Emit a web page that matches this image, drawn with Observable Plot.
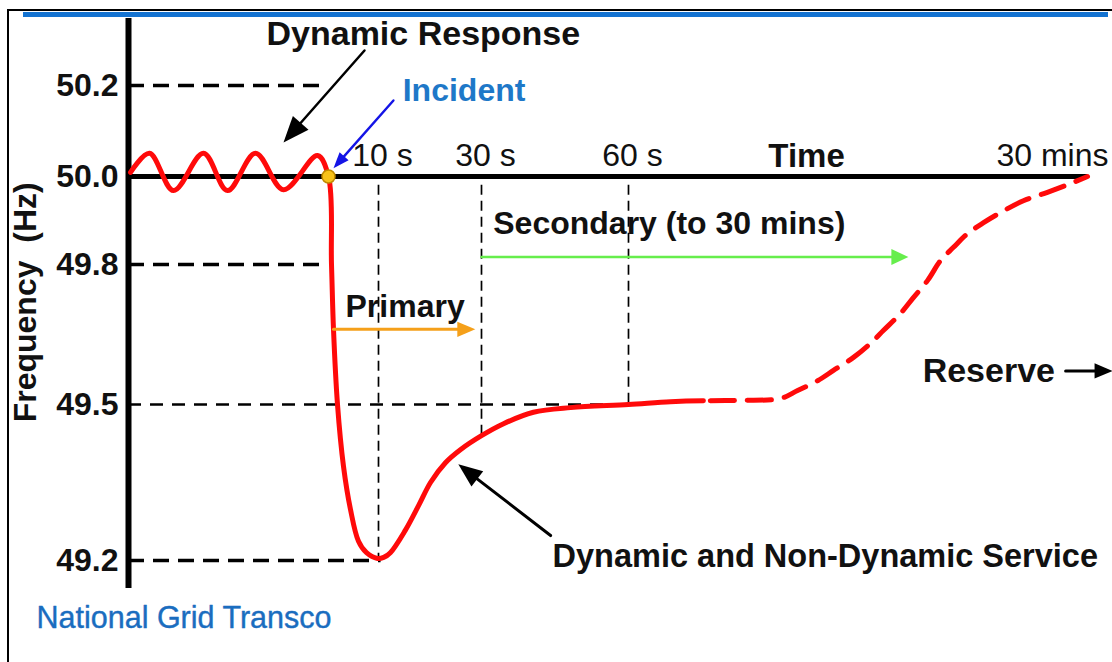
<!DOCTYPE html>
<html>
<head>
<meta charset="utf-8">
<script src="https://cdn.jsdelivr.net/npm/d3@7"></script>
<script src="https://cdn.jsdelivr.net/npm/@observablehq/plot@0.6"></script>
<style>
  html, body { margin: 0; padding: 0; background: #fff; }
  #wrap { position: relative; width: 1112px; height: 662px; overflow: hidden; background: #fff; }
  .frame-top { position: absolute; left: 7px; top: 9px; width: 1105px; height: 2px; background: #000; }
  .frame-left { position: absolute; left: 7px; top: 9px; width: 2px; height: 653px; background: #000; }
  .band { position: absolute; left: 23px; top: 12px; width: 1085px; height: 5px; background: #1473d1; }
  #chart { position: absolute; left: 0; top: 0; }
  #err { position: absolute; left: 40px; top: 40px; font: 14px monospace; color: #c00; white-space: pre-wrap; }
</style>
</head>
<body>
<div id="wrap">
  <div class="frame-top"></div>
  <div class="frame-left"></div>
  <div class="band"></div>
  <div id="chart"></div>
  <div id="err"></div>
</div>
<script>
// ---------- data (schematic frequency response, time in seconds) ----------
const yTicks = [49.2, 49.5, 49.8, 50.0, 50.2];
const xTickTimes = [10, 30, 60];
const xTickLabels = ["10 s", "30 s", "60 s"];
const endTime = 1800;
const endLabel = "30 mins";
const axisLabelTime = 735;
const axisLabel = "Time";
const yTitle = "Frequency  (Hz)";

// solid part: pre-incident oscillation, drop, recovery
const solidTime = [-39.6, -35.8, -31, -25, -20.2, -14.6, -9, -2.2, 0, 0.6, 1.0, 1.8, 3.0, 4.4, 6.0, 7.6, 9.8, 11.0, 12.3, 15.2, 17.8, 20.1, 23.0, 25.9, 30, 34.5, 40.6, 48.2, 60, 219, 344];
const solidFreq = [50.009, 50.051, 49.968, 50.051, 49.968, 50.051, 49.970, 50.046, 50.0, 49.8, 49.661, 49.5, 49.381, 49.298, 49.237, 49.215, 49.204, 49.206, 49.215, 49.258, 49.306, 49.350, 49.388, 49.413, 49.44, 49.463, 49.485, 49.494, 49.5, 49.506, 49.508];

// dashed part: reserve restoring to 50 Hz by 30 mins
const reserveTime = [344, 485, 636, 701, 777, 837, 913, 977, 1027, 1091, 1140, 1194, 1243, 1292, 1345, 1406, 1470, 1557, 1648, 1736, 1800];
const reserveFreq = [49.508, 49.509, 49.513, 49.530, 49.551, 49.573, 49.601, 49.631, 49.659, 49.695, 49.729, 49.766, 49.809, 49.839, 49.870, 49.895, 49.918, 49.945, 49.964, 49.984, 50.0];

// incident
const incidentTime = [0];
const incidentFreq = [50.0];

// reference guides
const guideThickFreq = [50.2, 49.8, 49.2];
const guideThickEnd = [-1.2, -0.6, 10.5];
const guideThinFreq = [49.5];
const guideThinEnd = [60];
const guideVTime = [10, 30, 60];
const guideVFreq = [49.2, 49.44, 49.5];

// annotations
const noteText = ["Dynamic Response", "Incident", "Primary", "Secondary (to 30 mins)", "Reserve", "Dynamic and Non-Dynamic Service"];
const noteTime = [-12.4, 14.7, 3.4, 32.4, 1175, 44.5];
const noteFreq = [50.314, 50.189, 49.71, 49.892, 49.571, 49.208];
const brandText = "National Grid Transco";
const brandTime = -58.4;
const brandFreq = 49.089;

const arrowFromTime = [7.2, 12.9, 1.0, 30, 1717, 44.1];
const arrowFromFreq = [50.277, 50.167, 49.661, 49.817, 49.572, 49.248];
const arrowToTime = [-9, 1.0, 28.8, 1121, 1895, 25.5];
const arrowToFreq = [50.075, 50.018, 49.661, 49.817, 49.572, 49.385];

// ---------- styles ----------
const arrowStyle = [
  {color: "#000000", width: 2.5, head: 26, ratio: 0.8},
  {color: "#1414e6", width: 2.4, head: 16, ratio: 0.75},
  {color: "#f5a01a", width: 3, head: 18, ratio: 0.85},
  {color: "#66ee4c", width: 2.5, head: 17, ratio: 0.95},
  {color: "#000000", width: 3, head: 18, ratio: 0.85},
  {color: "#000000", width: 3, head: 24, ratio: 0.8}
];
const noteColor = ["#111", "#1e78c8", "#111", "#111", "#111", "#111"];
const noteSize = [34, 32, 32, 32, 34, 32.5];

// arrowhead symbol with its tip at the origin, pointing up
const headSymbol = (ratio) => ({
  draw(context, size) {
    const L = Math.sqrt(size / Math.PI);
    const w = L * ratio / 2;
    context.moveTo(0, 0);
    context.lineTo(-w, L);
    context.lineTo(w, L);
    context.closePath();
  }
});

try {
  const solid = solidTime.map((t, i) => ({t, f: solidFreq[i]}));
  const reserve = reserveTime.map((t, i) => ({t, f: reserveFreq[i]}));
  const notes = noteText.map((text, i) => ({text, t: noteTime[i], f: noteFreq[i], color: noteColor[i], size: noteSize[i]}));
  const arrows = arrowFromTime.map((t, i) => ({x1: t, y1: arrowFromFreq[i], x2: arrowToTime[i], y2: arrowToFreq[i]}));

  const font = "'Liberation Sans', Arial, Helvetica, sans-serif";
  const red = "#ff0a0a";

  const xOpt = {type: "linear", domain: [-40, 0, 10, 30, 60, 1800], range: [128, 328, 378, 481, 628, 1087], axis: null};
  const yOpt = {type: "linear", domain: [49.2, 49.5, 49.8, 50.0, 50.2], range: [560, 404, 264, 176, 85], axis: null};
  const sx = Plot.scale({x: xOpt});
  const sy = Plot.scale({y: yOpt});

  const arrowShafts = arrowStyle.map((s, i) =>
    Plot.arrow([arrows[i]], {x1: "x1", y1: "y1", x2: "x2", y2: "y2", stroke: s.color, strokeWidth: s.width, headLength: 0, insetEnd: s.head * 0.7})
  );
  const arrowHeads = arrowStyle.map((s, i) => {
    const a = arrows[i];
    const ang = Math.atan2(sy.apply(a.y2) - sy.apply(a.y1), sx.apply(a.x2) - sx.apply(a.x1));
    return Plot.dot([a], {x: "x2", y: "y2", symbol: headSymbol(s.ratio), fill: s.color, stroke: "none",
      r: s.head, rotate: ang * 180 / Math.PI + 90});
  });

  const noteMarks = notes.map(n =>
    Plot.text([n], {x: "t", y: "f", text: "text", fill: n.color, fontSize: n.size, textAnchor: "start", lineAnchor: "middle", fontWeight: "bold"})
  );

  const chart = Plot.plot({
    width: 1112,
    height: 662,
    margin: 0,
    style: {fontFamily: font, background: "transparent", overflow: "visible"},
    x: xOpt,
    y: yOpt,
    marks: [
      Plot.ruleY(guideThickFreq, {y: d => d, x1: -40, x2: guideThickEnd, stroke: "#000", strokeWidth: 3.5, strokeDasharray: "16,9"}),
      Plot.ruleY(guideThinFreq, {y: d => d, x1: -40, x2: guideThinEnd, stroke: "#000", strokeWidth: 2.4, strokeDasharray: "13,9"}),
      Plot.ruleX(guideVTime, {x: d => d, y1: 49.98, y2: guideVFreq, stroke: "#000", strokeWidth: 1.7, strokeDasharray: "10,6"}),
      Plot.ruleX([-40], {x: d => d, y1: 50.347, y2: 49.146, stroke: "#000", strokeWidth: 6}),
      Plot.ruleY([50.0], {y: d => d, x1: -40, x2: endTime, stroke: "#000", strokeWidth: 5}),
      Plot.line(solid, {x: "t", y: "f", stroke: red, strokeWidth: 5, curve: "catmull-rom"}),
      Plot.line(reserve, {x: "t", y: "f", stroke: red, strokeWidth: 5, curve: "catmull-rom", strokeDasharray: "24,13", strokeDashoffset: 30}),
      ...arrowShafts,
      ...arrowHeads,
      Plot.dot(incidentTime, {x: d => d, y: incidentFreq, r: 6.5, fill: "#f7c21a", stroke: "#c08a00", strokeWidth: 1.5}),
      Plot.text(yTicks, {x: -40, y: d => d, text: d => d.toFixed(1), dx: -10, textAnchor: "end", lineAnchor: "middle", fontSize: 32, fontWeight: "bold", fill: "#111"}),
      Plot.text(xTickTimes, {x: d => d, y: 50.0, text: xTickLabels, dx: 4, dy: -21, textAnchor: "middle", lineAnchor: "middle", fontSize: 32, fill: "#111"}),
      Plot.text([endTime], {x: d => d, y: 50.0, text: [endLabel], dx: 21, dy: -21, textAnchor: "end", lineAnchor: "middle", fontSize: 32, fill: "#111"}),
      Plot.text([axisLabelTime], {x: d => d, y: 50.0, text: [axisLabel], dy: -20, textAnchor: "middle", lineAnchor: "middle", fontSize: 33, fontWeight: "bold", fill: "#111"}),
      Plot.text([yTitle], {x: -60.6, y: 49.719, text: d => d, rotate: -90, textAnchor: "middle", lineAnchor: "middle", fontSize: 32, fontWeight: "bold", fill: "#111"}),
      ...noteMarks,
      Plot.text([brandText], {x: brandTime, y: brandFreq, text: d => d, textAnchor: "start", lineAnchor: "middle", fontSize: 30.5, fill: "#1a6dbf", stroke: "#1a6dbf", strokeWidth: 0.4})
    ]
  });
  document.getElementById("chart").appendChild(chart);
} catch (e) {
  document.getElementById("err").textContent = String(e && e.stack || e);
}
</script>
</body>
</html>
